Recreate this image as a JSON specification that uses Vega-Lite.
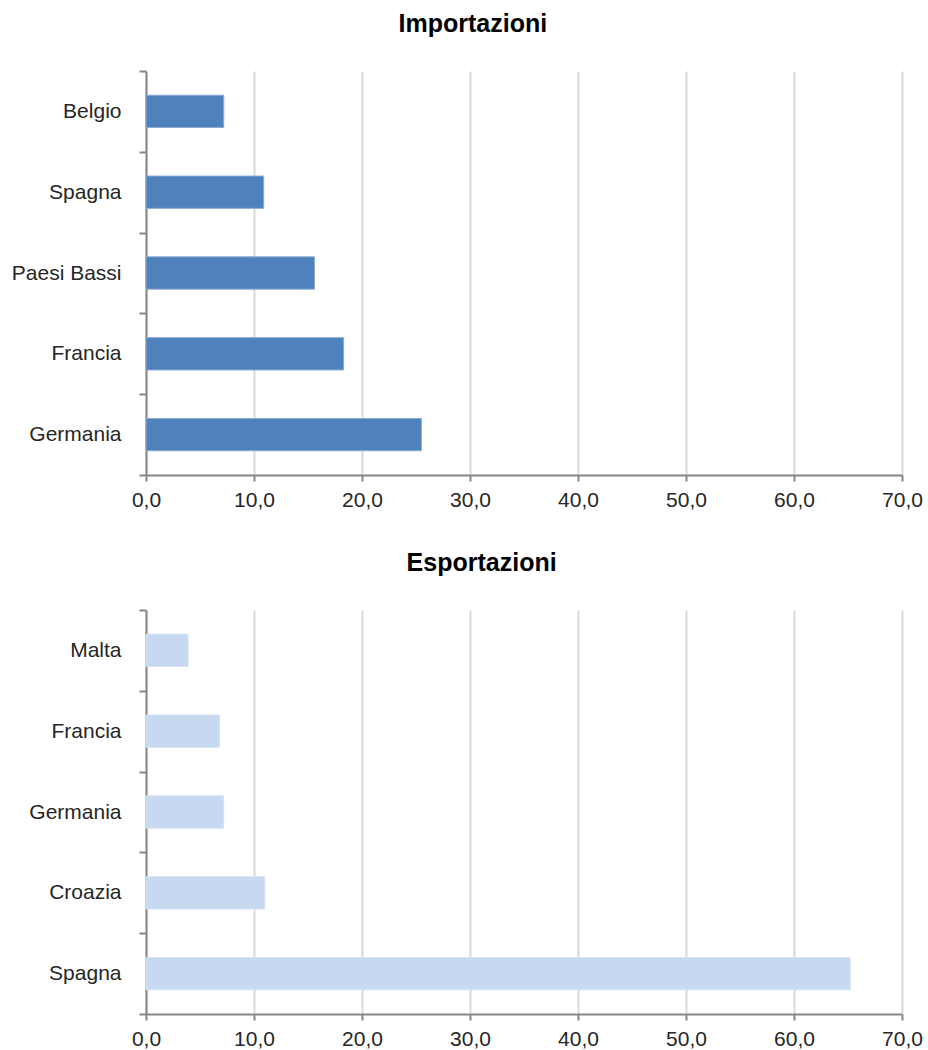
{
  "$schema": "https://vega.github.io/schema/vega-lite/v6.json",
  "background": "white",
  "padding": {"left": 11, "top": 12, "right": 21, "bottom": 5},
  "config": {
    "font": "Liberation Sans",
    "view": {"stroke": null},
    "title": {"font": "Liberation Sans", "fontSize": 25, "fontWeight": "bold", "color": "#000000", "anchor": "middle", "frame": "bounds", "offset": 23, "dx": 6},
    "axis": {"labelFont": "Liberation Sans", "labelFontSize": 21, "labelColor": "#262626", "domainColor": "#868686", "domainWidth": 2, "tickColor": "#868686", "tickWidth": 2, "title": null}
  },
  "spacing": 41,
  "vconcat": [
    {
      "title": "Importazioni",
      "width": 756,
      "height": 404,
      "data": {"values": [
        {"paese": "Belgio", "valore": 7.2},
        {"paese": "Spagna", "valore": 10.9},
        {"paese": "Paesi Bassi", "valore": 15.6},
        {"paese": "Francia", "valore": 18.3},
        {"paese": "Germania", "valore": 25.5}
      ]},
      "mark": {"type": "bar", "color": "#4F81BD", "stroke": "#8AAAD3", "strokeWidth": 1, "height": {"band": 0.4}},
      "encoding": {
        "y": {"field": "paese", "type": "nominal", "sort": ["Belgio", "Spagna", "Paesi Bassi", "Francia", "Germania"],
          "scale": {"paddingInner": 0, "paddingOuter": 0},
          "axis": {"tickBand": "extent", "tickSize": 7, "labelPadding": 18, "grid": false, "labelLimit": 300}},
        "x": {"field": "valore", "type": "quantitative", "scale": {"domain": [0, 70], "nice": false},
          "axis": {"values": [0, 10, 20, 30, 40, 50, 60, 70], "labelExpr": "replace(format(datum.value, '.1f'), '.', ',')",
            "labelFlush": false, "grid": true, "gridColor": "#D9D9D9", "gridWidth": 2, "tickSize": 6, "labelPadding": 8}}
      }
    },
    {
      "title": "Esportazioni",
      "width": 756,
      "height": 404,
      "data": {"values": [
        {"paese": "Malta", "valore": 3.9},
        {"paese": "Francia", "valore": 6.8},
        {"paese": "Germania", "valore": 7.2},
        {"paese": "Croazia", "valore": 11.0},
        {"paese": "Spagna", "valore": 65.2}
      ]},
      "mark": {"type": "bar", "color": "#C6D9F1", "stroke": "#D6E3F5", "strokeWidth": 1, "height": {"band": 0.4}},
      "encoding": {
        "y": {"field": "paese", "type": "nominal", "sort": ["Malta", "Francia", "Germania", "Croazia", "Spagna"],
          "scale": {"paddingInner": 0, "paddingOuter": 0},
          "axis": {"tickBand": "extent", "tickSize": 7, "labelPadding": 18, "grid": false, "labelLimit": 300}},
        "x": {"field": "valore", "type": "quantitative", "scale": {"domain": [0, 70], "nice": false},
          "axis": {"values": [0, 10, 20, 30, 40, 50, 60, 70], "labelExpr": "replace(format(datum.value, '.1f'), '.', ',')",
            "labelFlush": false, "grid": true, "gridColor": "#D9D9D9", "gridWidth": 2, "tickSize": 6, "labelPadding": 8}}
      }
    }
  ]
}
